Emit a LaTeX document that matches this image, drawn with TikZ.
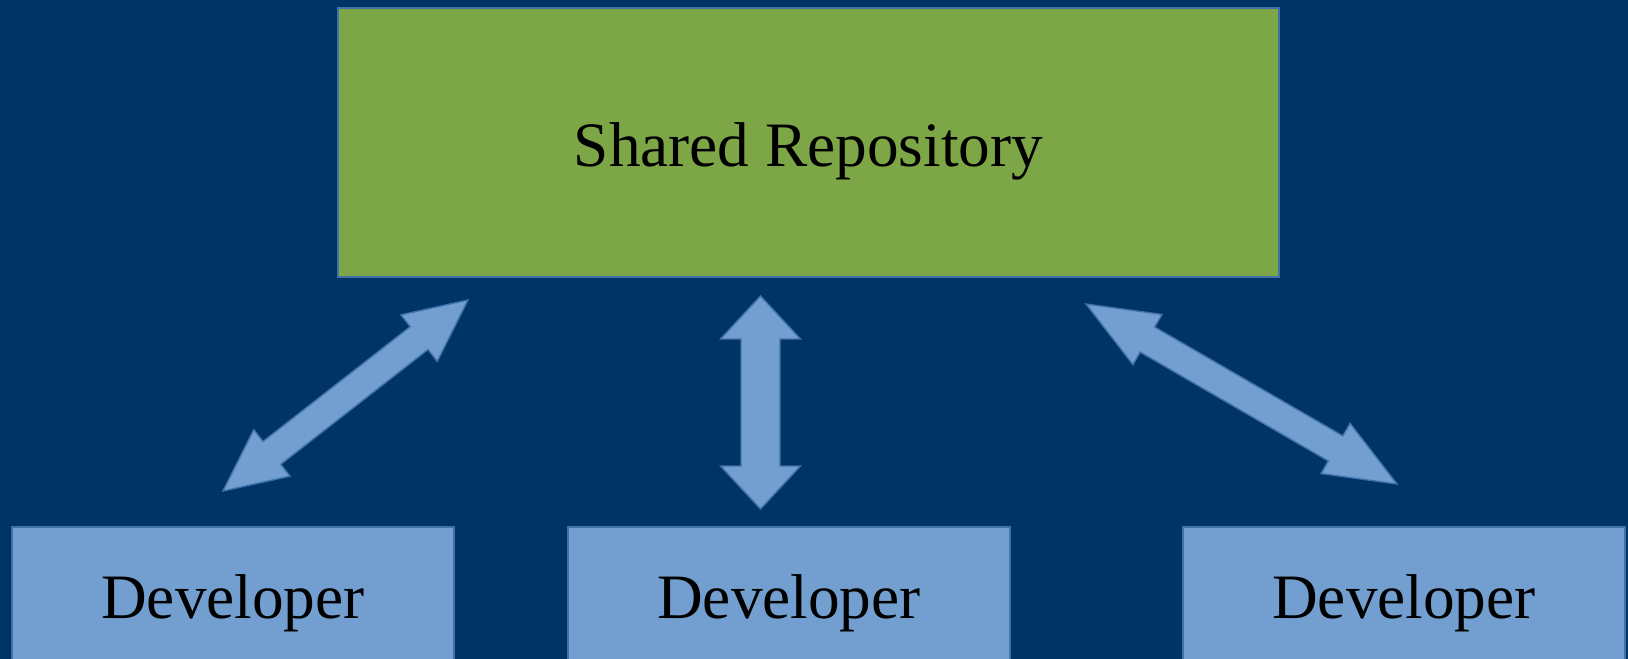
\documentclass[tikz,border=0pt]{standalone}
\usepackage{fontspec}
\setmainfont{Liberation Serif}
\usepackage{tikz}
\usetikzlibrary{calc}

\definecolor{bgnavy}{RGB}{0,51,102}
\definecolor{repogreen}{RGB}{125,166,71}
\definecolor{devblue}{RGB}{114,159,207}
\definecolor{edgeblue}{RGB}{65,113,170}

\tikzset{
  box/.style={draw=edgeblue, line width=1pt, text=black, inner sep=0pt,
    font=\fontsize{36}{40}\selectfont, text height=9.6mm, text depth=0pt},
  repobox/.style={box, fill=repogreen, minimum width=188.2mm, minimum height=53.8mm},
  devbox/.style={box, fill=devblue, minimum width=88.4mm, minimum height=26.8mm},
  arrowbody/.style={draw=edgeblue, line width=0.8pt, fill=devblue, line join=miter}
}

% block arrow: from, to, head length, head half width, shaft half width (px)
\newcommand{\blockarrow}[5]{%
  \pgfmathsetmacro\arrHead{#3*0.2}
  \pgfmathsetmacro\arrHalf{#4*0.2}
  \pgfmathsetmacro\arrShaft{#5*0.2}
  \coordinate (#1-p) at ($(#1)!\arrHead mm!(#2)$);
  \coordinate (#2-q) at ($(#2)!\arrHead mm!(#1)$);
  \draw[arrowbody] (#1) -- ($(#1-p)!\arrHalf mm!90:(#2)$) -- ($(#1-p)!\arrShaft mm!90:(#2)$)
    -- ($(#2-q)!\arrShaft mm!-90:(#1)$) -- ($(#2-q)!\arrHalf mm!-90:(#1)$) -- (#2)
    -- ($(#2-q)!\arrHalf mm!90:(#1)$) -- ($(#2-q)!\arrShaft mm!90:(#1)$)
    -- ($(#1-p)!\arrShaft mm!-90:(#2)$) -- ($(#1-p)!\arrHalf mm!-90:(#2)$) -- cycle;
}

\begin{document}
\begin{tikzpicture}[x=0.2mm, y=-0.2mm]
  % page and background
  \clip (0,0) rectangle (1628,659);
  \fill[bgnavy] (0,0) rectangle (1628,659);

  % repository
  \node[repobox] (repo) at (808.5,142.5) {Shared Repository};

  % developers
  \node[devbox] (devL) at (233,594) {Developer};
  \node[devbox] (devM) at (789,594) {Developer};
  \node[devbox] (devR) at (1404,594) {Developer};

  % arrow ends
  \coordinate (leftlow) at (223,491);
  \coordinate (lefthigh) at (468,300);
  \coordinate (midlow) at (760.5,509);
  \coordinate (midhigh) at (760.5,296);
  \coordinate (rightlow) at (1397,484);
  \coordinate (righthigh) at (1086,304);

  % double arrows
  \blockarrow{leftlow}{lefthigh}{62}{29.5}{14.5}
  \blockarrow{midlow}{midhigh}{43}{40}{19.5}
  \blockarrow{rightlow}{righthigh}{71}{29}{14.5}
\end{tikzpicture}
\end{document}
